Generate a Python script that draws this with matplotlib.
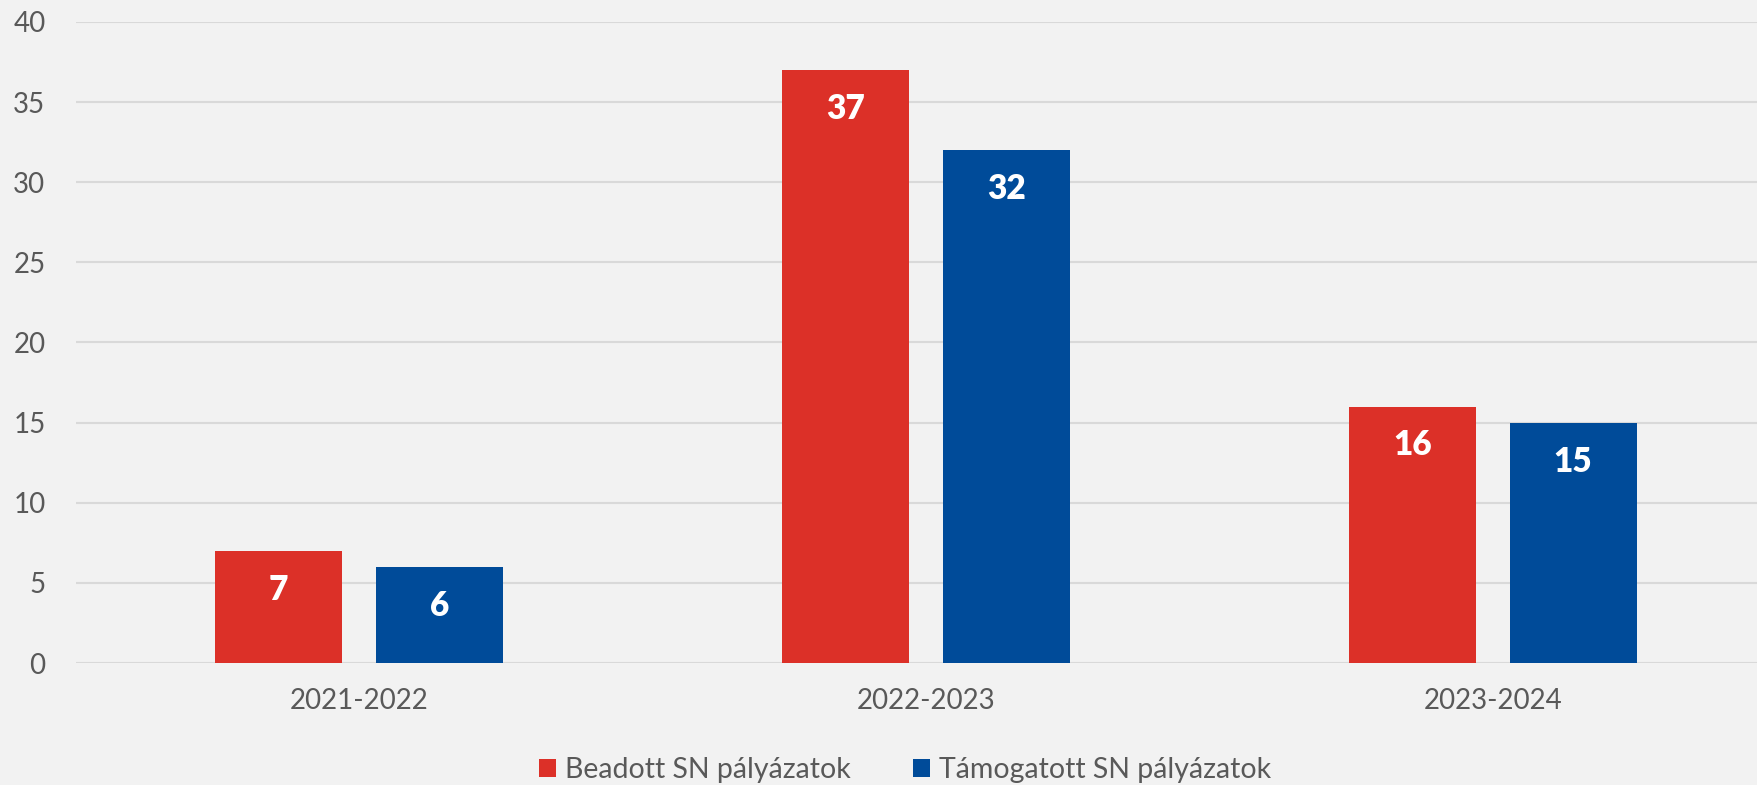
import matplotlib
matplotlib.use("Agg")
import matplotlib.pyplot as plt
import numpy as np

# data
years = ["2021-2022", "2022-2023", "2023-2024"]
beadott = [7, 37, 16]
tamogatott = [6, 32, 15]
series_names = ["Beadott SN pályázatok", "Támogatott SN pályázatok"]

plt.rcParams['font.family'] = ['Lato', 'DejaVu Sans']

bg = "#F2F2F2"
red = "#DC3028"
blue = "#004B99"
grey = "#595959"

fig = plt.figure(figsize=(17.57, 7.85), dpi=100, facecolor=bg)
ax = fig.add_axes([76 / 1757, 122 / 785, 1700 / 1757, 641 / 785])
ax.set_facecolor(bg)

x = np.arange(len(years))
w = 0.224
off = 0.142
b1 = ax.bar(x - off, beadott, w, color=red, label=series_names[0], zorder=3)
b2 = ax.bar(x + off, tamogatott, w, color=blue, label=series_names[1], zorder=3)

for bars in (b1, b2):
    for rect in bars:
        h = rect.get_height()
        ax.annotate(str(int(h)), (rect.get_x() + rect.get_width() / 2, h),
                    xytext=(0, -28), textcoords="offset points",
                    ha="center", va="center", color="white",
                    fontsize=24, fontweight="heavy")

ax.set_xlim(-0.5, 2.5)
ax.set_ylim(0, 40)
ax.set_yticks(range(0, 41, 5))
ax.set_xticks(x)
ax.set_xticklabels(years)
ax.yaxis.grid(True, color="#D9D9D9", linewidth=1.5, zorder=0)
ax.set_axisbelow(True)
for s in ax.spines.values():
    s.set_visible(False)
ax.tick_params(axis="both", length=0, colors=grey, labelsize=20)
ax.tick_params(axis="y", pad=22)
ax.tick_params(axis="x", pad=18)

fig.legend(loc="center", bbox_to_anchor=(905 / 1757, 1 - 770 / 785),
           ncol=2, frameon=False, fontsize=20.5, labelcolor=grey,
           handlelength=0.6, handleheight=0.6, handletextpad=0.3,
           columnspacing=2.2)

fig.savefig("out.png", dpi=100, facecolor=bg)
